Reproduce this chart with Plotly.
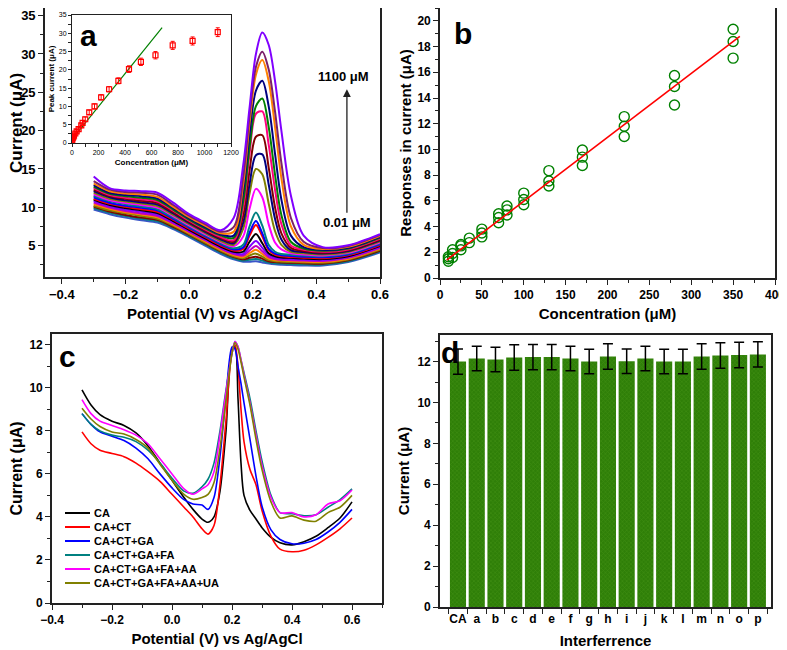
import plotly.graph_objects as go

# ---------------- panel a: DPV curves at increasing concentration ----------------
pot_a = [-0.30, -0.25, -0.20, -0.15, -0.10, -0.05, 0.00, 0.05, 0.10, 0.14, 0.17,
         0.19, 0.21, 0.23, 0.25, 0.27, 0.29, 0.32, 0.36, 0.42, 0.50, 0.60]

curves_a = [
    ("#3a56c8", [9.7, 9.1, 8.65, 8.3, 8.0, 7.15, 6.1, 5.0, 3.9, 3.2, 2.9, 2.9, 2.95, 2.8, 2.65, 2.55, 2.5, 2.45, 2.4, 2.4, 2.85, 4.1]),
    ("#008080", [9.9, 9.3, 8.85, 8.5, 8.2, 7.3, 6.25, 5.15, 4.05, 3.35, 3.05, 3.15, 3.25, 3.05, 2.8, 2.7, 2.65, 2.6, 2.55, 2.52, 2.96, 4.22]),
    ("#800000", [10.1, 9.45, 9.0, 8.65, 8.35, 7.45, 6.4, 5.3, 4.2, 3.5, 3.2, 3.4, 3.55, 3.3, 2.95, 2.85, 2.8, 2.75, 2.7, 2.64, 3.07, 4.34]),
    ("#808000", [10.2, 9.6, 9.2, 8.85, 8.5, 7.6, 6.5, 5.4, 4.3, 3.6, 3.35, 3.7, 3.95, 3.55, 3.1, 2.95, 2.9, 2.85, 2.8, 2.76, 3.18, 4.46]),
    ("#FF8000", [10.4, 9.8, 9.35, 9.05, 8.7, 7.75, 6.65, 5.55, 4.45, 3.75, 3.5, 4.0, 4.45, 3.9, 3.3, 3.1, 3.05, 3.0, 2.92, 2.88, 3.29, 4.58]),
    ("#C000C0", [10.6, 9.95, 9.5, 9.2, 8.85, 7.9, 6.8, 5.7, 4.6, 3.9, 3.7, 4.35, 4.95, 4.25, 3.5, 3.25, 3.15, 3.1, 3.05, 3.0, 3.4, 4.7]),
    ("#8000FF", [10.8, 10.1, 9.7, 9.4, 9.05, 8.05, 6.95, 5.85, 4.75, 4.05, 3.9, 4.85, 5.6, 4.7, 3.75, 3.4, 3.3, 3.25, 3.15, 3.12, 3.51, 4.82]),
    ("#000000", [11.0, 10.3, 9.9, 9.6, 9.25, 8.2, 7.05, 5.95, 4.85, 4.2, 4.2, 5.5, 6.5, 5.3, 4.0, 3.6, 3.45, 3.4, 3.3, 3.24, 3.62, 4.94]),
    ("#FF0000", [11.1, 10.45, 10.05, 9.75, 9.4, 8.35, 7.2, 6.1, 5.0, 4.35, 4.55, 6.3, 7.7, 6.2, 4.4, 3.8, 3.6, 3.5, 3.42, 3.36, 3.73, 5.06]),
    ("#0000FF", [11.3, 10.6, 10.2, 9.95, 9.6, 8.5, 7.35, 6.25, 5.15, 4.5, 4.75, 6.7, 8.2, 6.6, 4.6, 3.95, 3.75, 3.65, 3.55, 3.48, 3.84, 5.18]),
    ("#008080", [11.5, 10.8, 10.4, 10.1, 9.75, 8.65, 7.5, 6.35, 5.3, 4.65, 5.1, 7.5, 9.3, 7.6, 5.1, 4.2, 3.9, 3.8, 3.7, 3.6, 3.95, 5.3]),
    ("#FF00FF", [11.7, 10.95, 10.55, 10.3, 9.95, 8.85, 7.65, 6.5, 5.45, 4.9, 6.2, 9.8, 12.4, 11.3, 7.8, 5.4, 4.5, 4.0, 3.85, 3.72, 4.06, 5.42]),
    ("#808000", [11.9, 11.1, 10.75, 10.5, 10.15, 9.0, 7.8, 6.65, 5.6, 5.1, 7.2, 11.8, 15.0, 14.3, 10.5, 6.9, 5.1, 4.2, 4.0, 3.84, 4.17, 5.54]),
    ("#000080", [12.1, 11.3, 10.9, 10.65, 10.35, 9.2, 7.95, 6.8, 5.8, 5.3, 8.0, 13.0, 16.8, 16.9, 13.0, 8.5, 5.8, 4.4, 4.15, 3.96, 4.28, 5.66]),
    ("#800000", [12.3, 11.45, 11.1, 10.85, 10.55, 9.35, 8.1, 6.95, 5.95, 5.5, 8.9, 14.8, 19.2, 19.4, 15.2, 10.0, 6.6, 4.7, 4.3, 4.08, 4.39, 5.78]),
    ("#FF0080", [12.5, 11.6, 11.25, 11.05, 10.75, 9.55, 8.25, 7.1, 6.1, 5.7, 10.0, 17.0, 22.2, 22.5, 18.2, 12.3, 7.8, 5.0, 4.45, 4.2, 4.5, 5.9]),
    ("#008000", [12.7, 11.75, 11.45, 11.25, 10.95, 9.7, 8.4, 7.25, 6.3, 6.0, 10.8, 17.8, 23.2, 24.2, 20.5, 14.3, 9.0, 5.5, 4.6, 4.32, 4.61, 6.02]),
    ("#000080", [12.9, 11.9, 11.6, 11.45, 11.15, 9.9, 8.55, 7.4, 6.45, 6.3, 12.0, 19.5, 25.2, 26.5, 23.2, 17.0, 11.0, 6.3, 4.8, 4.44, 4.72, 6.14]),
    ("#FF8000", [13.1, 12.1, 11.8, 11.65, 11.35, 10.05, 8.7, 7.6, 6.6, 6.8, 13.0, 21.0, 27.3, 29.2, 26.5, 20.5, 13.8, 7.5, 5.1, 4.56, 4.83, 6.26]),
    ("#7B1F6A", [13.4, 12.3, 12.0, 11.9, 11.65, 10.3, 8.9, 7.8, 6.8, 7.4, 14.0, 22.0, 28.3, 30.3, 28.0, 22.5, 15.8, 8.6, 5.5, 4.68, 4.94, 6.38]),
    ("#8000FF", [14.0, 12.5, 12.2, 12.1, 11.9, 10.6, 9.1, 8.0, 7.0, 8.6, 15.5, 23.0, 30.0, 32.8, 31.2, 26.5, 20.0, 11.5, 6.3, 4.8, 5.05, 6.5]),
]

# inset: peak current vs concentration
conc_in = [0.01, 0.1, 1, 5, 10, 15, 25, 35, 50, 70, 80, 100, 130, 170, 220, 280,
           350, 430, 520, 630, 760, 910, 1100]
peak_in = [0.3, 0.6, 0.9, 1.3, 1.6, 2.0, 2.6, 3.2, 3.8, 4.8, 5.5, 6.5, 8.4, 10.0,
           12.5, 14.7, 17.0, 20.2, 22.2, 24.0, 26.7, 27.9, 30.3]
err_in = [0.3, 0.3, 0.3, 0.4, 0.4, 0.4, 0.5, 0.5, 0.5, 0.6, 0.6, 0.6, 0.6, 0.7,
          0.7, 0.7, 0.8, 0.9, 1.0, 1.0, 1.1, 1.1, 1.2]
fit_in_x = [0, 680]
fit_in_slope, fit_in_icpt = 0.0449, 1.0

# ---------------- panel b: calibration ----------------
conc_b = [10, 10, 10, 15, 15, 15, 25, 25, 25, 35, 35, 50, 50, 50, 70, 70, 70,
          80, 80, 80, 100, 100, 100, 130, 130, 130, 170, 170, 170, 220, 220, 220,
          280, 280, 280, 350, 350, 350]
resp_b = [1.3, 1.5, 1.65, 1.6, 1.9, 2.2, 2.2, 2.5, 2.6, 2.75, 3.1, 3.2, 3.5, 3.8,
          4.3, 4.7, 5.0, 4.9, 5.3, 5.6, 5.7, 6.1, 6.6, 7.15, 7.55, 8.35, 8.75,
          9.4, 9.95, 11.0, 11.8, 12.55, 13.45, 14.9, 15.75, 17.1, 18.4, 19.35]
fit_b_x = [8, 358]
fit_b_slope, fit_b_icpt = 0.0497, 1.0

# ---------------- panel c: interference DPV ----------------
pot_c = [-0.30, -0.27, -0.24, -0.20, -0.16, -0.12, -0.08, -0.04, 0.00, 0.04, 0.07,
         0.10, 0.12, 0.14, 0.16, 0.18, 0.20, 0.21, 0.22, 0.23, 0.24, 0.26, 0.28,
         0.30, 0.33, 0.36, 0.40, 0.44, 0.48, 0.52, 0.56, 0.60]
curves_c = [
    ("CA", "#000000", [9.9, 9.2, 8.75, 8.45, 8.25, 7.9, 7.3, 6.5, 5.7, 4.9, 4.35, 3.9, 3.75, 4.0, 5.2, 8.0, 11.8, 11.9, 9.5, 6.5, 5.0, 4.3, 3.9, 3.5, 3.05, 2.8, 2.7, 2.85, 3.1, 3.5, 3.95, 4.7]),
    ("CA+CT", "#FF0000", [7.95, 7.4, 7.1, 6.95, 6.8, 6.5, 6.1, 5.65, 5.05, 4.45, 4.0, 3.45, 3.2, 3.6, 5.5, 8.5, 11.7, 12.0, 11.0, 9.0, 7.5, 6.2, 5.5, 4.3, 3.1, 2.5, 2.38, 2.45, 2.7, 3.05, 3.45, 3.95]),
    ("CA+CT+GA", "#0000FF", [8.8, 8.3, 7.95, 7.75, 7.55, 7.2, 6.7, 6.0, 5.35, 4.8, 4.6, 4.55, 4.35, 4.9, 6.8, 9.6, 11.9, 11.8, 11.0, 10.2, 9.3, 7.6, 5.9, 4.5, 3.4, 2.95, 2.75, 2.78, 2.95, 3.3, 3.75, 4.35]),
    ("CA+CT+GA+FA", "#008080", [8.8, 8.3, 8.0, 7.8, 7.7, 7.5, 7.1, 6.5, 5.8, 5.2, 5.1, 5.4, 5.75, 6.5, 8.0, 9.9, 11.6, 12.15, 11.9, 11.3, 10.7, 9.5, 8.0, 6.6, 5.0, 4.2, 4.15, 4.05, 4.1, 4.45, 4.8, 5.3]),
    ("CA+CT+GA+FA+AA", "#FF00FF", [9.45, 8.8, 8.45, 8.25, 8.05, 7.8, 7.4, 6.7, 6.0, 5.3, 5.05, 5.3, 5.5, 6.1, 7.8, 9.8, 11.6, 12.15, 11.9, 11.3, 10.6, 9.3, 7.8, 6.4, 4.9, 4.2, 4.2, 4.0, 4.1, 4.6, 4.75, 5.25]),
    ("CA+CT+GA+FA+AA+UA", "#808000", [9.05, 8.55, 8.2, 7.95, 7.85, 7.6, 7.2, 6.45, 5.7, 5.05, 4.82, 4.9, 5.05, 5.6, 7.2, 9.4, 11.6, 12.1, 11.8, 11.2, 10.5, 9.2, 7.6, 6.2, 4.7, 3.95, 4.05, 3.85, 3.8, 4.2, 4.45, 5.0]),
]

# ---------------- panel d: interference bars ----------------
labels_d = ["CA", "a", "b", "c", "d", "e", "f", "g", "h", "i", "j", "k", "l",
            "m", "n", "o", "p"]
current_d = [12.0, 12.15, 12.1, 12.2, 12.22, 12.22, 12.15, 12.0, 12.25, 12.02,
             12.15, 12.0, 12.0, 12.25, 12.3, 12.32, 12.35]
err_d = [0.62, 0.6, 0.6, 0.62, 0.62, 0.62, 0.6, 0.6, 0.62, 0.6, 0.6, 0.6, 0.6,
         0.62, 0.62, 0.62, 0.62]

FONT = "Liberation Sans, Arial, sans-serif"
# the page body adds an 8px margin, so the figure is a bit smaller than the window
OFF = 8
W, H = 787 - OFF, 650 - OFF

fig = go.Figure()

for color, ys in curves_a:
    fig.add_trace(go.Scatter(x=pot_a, y=ys, mode="lines", xaxis="x", yaxis="y",
                             line=dict(color=color, width=2, shape="spline", smoothing=0.9)))

fig.add_trace(go.Scatter(x=fit_in_x, y=[fit_in_icpt + fit_in_slope * v for v in fit_in_x],
                         mode="lines", xaxis="x2", yaxis="y2",
                         line=dict(color="#008000", width=1.2)))
fig.add_trace(go.Scatter(x=conc_in, y=peak_in, mode="markers", xaxis="x2", yaxis="y2",
                         marker=dict(symbol="square-open", color="#FF0000", size=5,
                                     line=dict(width=1.2)),
                         error_y=dict(type="data", array=err_in, color="#FF0000",
                                      thickness=1, width=2)))

fig.add_trace(go.Scatter(x=conc_b, y=resp_b, mode="markers", xaxis="x3", yaxis="y3",
                         marker=dict(symbol="circle-open", color="#008000", size=10,
                                     line=dict(width=1.4))))
fig.add_trace(go.Scatter(x=fit_b_x, y=[fit_b_icpt + fit_b_slope * v for v in fit_b_x],
                         mode="lines", xaxis="x3", yaxis="y3",
                         line=dict(color="#FF0000", width=1.6)))

for name, color, ys in curves_c:
    fig.add_trace(go.Scatter(x=pot_c, y=ys, mode="lines", name=name, xaxis="x4", yaxis="y4",
                             line=dict(color=color, width=1.6, shape="spline", smoothing=0.8)))

fig.add_trace(go.Bar(x=labels_d, y=current_d, xaxis="x5", yaxis="y5", width=0.86,
                     marker=dict(color="#2f7f08", line=dict(width=0),
                                 pattern=dict(shape="x", fgcolor="#4e9a1c", size=3,
                                              solidity=0.35)),
                     error_y=dict(type="data", array=err_d, color="#000000",
                                  thickness=1.5, width=5)))


# page pixels -> paper fractions
def px_x(a, b):
    return [max(0, (a - OFF) / W), min(1, (b - OFF) / W)]


def px_y(top, bottom):
    return [max(0, 1 - (bottom - OFF) / H), min(1, 1 - (top - OFF) / H)]


tick_font = dict(family=FONT, size=13, color="black", weight="bold")
title_font = dict(family=FONT, size=15, color="black", weight="bold")


def axis(domain, rng, dtick, minor, title="", tick0=None, standoff=6, tfont=None, **kw):
    d = dict(domain=domain, range=rng, dtick=dtick, showline=True, mirror=True,
             linecolor="#222", linewidth=1.6, ticks="outside", ticklen=5,
             tickwidth=1.3, tickcolor="#222", showgrid=False, zeroline=False,
             automargin=False, tickfont=tick_font,
             title=dict(text=title, font=tfont or title_font, standoff=standoff),
             minor=dict(dtick=minor, ticks="outside", ticklen=3, tickcolor="#222",
                        showgrid=False))
    if tick0 is not None:
        d["tick0"] = tick0
    d.update(kw)
    return d


small_tick = dict(family=FONT, size=7, color="black")
small_title = dict(family=FONT, size=8, color="black", weight="bold")
b_tick = dict(family=FONT, size=12, color="black", weight="bold")

fig.update_layout(
    width=W, height=H, margin=dict(l=0, r=0, t=0, b=0),
    paper_bgcolor="white", plot_bgcolor="white",
    font=dict(family=FONT, color="black"),
    showlegend=False,
    xaxis=axis(px_x(45, 380), [-0.453, 0.6], 0.2, 0.1, "Potential (V) vs Ag/AgCl",
               tick0=-0.4, tickformat=".1f", anchor="y", standoff=7),
    yaxis=axis(px_y(4, 277), [0.9, 36], 5, 2.5, "", tick0=5, anchor="x"),
    xaxis2=axis(px_x(72, 231), [0, 1200], 200, 100, "Concentration (μM)", anchor="y2",
                linewidth=1, ticklen=3, standoff=3, tickfont=small_tick, tfont=small_title),
    yaxis2=axis(px_y(15, 143), [0, 35], 5, 2.5, "Peak current (μA)", anchor="x2",
                linewidth=1, ticklen=3, standoff=3, tickfont=small_tick, tfont=small_title),
    xaxis3=axis(px_x(440, 775), [0, 400], 50, 25, "Concentration (μM)", anchor="y3",
                standoff=7, tickfont=b_tick),
    yaxis3=axis(px_y(5, 278), [0, 21], 2, 1, "Responses in current (μA)", anchor="x3",
                standoff=2, tickfont=b_tick),
    xaxis4=axis(px_x(52, 382), [-0.4, 0.7], 0.2, 0.1, "Potential (V) vs Ag/AgCl",
                tick0=-0.4, tickformat=".1f", anchor="y4", standoff=7, tickfont=b_tick),
    yaxis4=axis(px_y(334, 603), [0, 12.5], 2, 1, "Current (μA)", anchor="x4", standoff=6,
                tickfont=b_tick,
                tfont=dict(family=FONT, size=16, color="black", weight="bold")),
    xaxis5=dict(domain=px_x(440, 771), range=[-0.96, 16.7], showline=True, mirror=True,
                linecolor="#222", linewidth=1.6, ticks="outside", ticklen=5,
                tickwidth=1.3, tickcolor="#222", tickson="boundaries", showgrid=False,
                automargin=False, tickangle=0,
                tickfont=dict(family=FONT, size=12, color="black", weight="bold"),
                title=dict(text="Interferrence", font=title_font, standoff=10),
                anchor="y5"),
    yaxis5=axis(px_y(335, 607), [0, 13.3], 2, 1, "Current (μA)", anchor="x5", standoff=4,
                tickfont=b_tick),
)

# panel a y title placed as rotated text so it clears the tick labels
fig.add_annotation(text="Current (μA)", textangle=-90, xref="paper", yref="paper",
                   x=(17 - OFF) / W, y=1 - (123 - OFF) / H, xanchor="center",
                   yanchor="middle", showarrow=False,
                   font=dict(family=FONT, size=17, color="black", weight="bold"))

big = dict(family=FONT, size=30, color="black", weight="bold")
fig.add_annotation(text="a", x=128, y=29.5, xref="x2", yref="y2", showarrow=False, font=big)
fig.add_annotation(text="b", x=27.5, y=19.0, xref="x3", yref="y3", showarrow=False, font=big)
fig.add_annotation(text="c", x=-0.347, y=11.44, xref="x4", yref="y4", showarrow=False, font=big)
fig.add_annotation(text="d", x=-0.43, y=12.45, xref="x5", yref="y5", showarrow=False, font=big)

fig.add_annotation(x=0.496, y=25.4, ax=0.496, ay=9.1, xref="x", yref="y", axref="x",
                   ayref="y", showarrow=True, arrowhead=2, arrowsize=1.2, arrowwidth=1.3,
                   arrowcolor="#222", text="")
fig.add_annotation(text="1100 μM", x=0.484, y=27.0, xref="x", yref="y", showarrow=False,
                   font=dict(family=FONT, size=13, color="black", weight="bold"))
fig.add_annotation(text="0.01 μM", x=0.496, y=7.97, xref="x", yref="y", showarrow=False,
                   font=dict(family=FONT, size=13, color="black", weight="bold"))

# legend for panel c, drawn as short line samples with labels
leg_font = dict(family=FONT, size=11, color="black", weight="bold")
for i, (name, color, _) in enumerate(curves_c):
    yc = 1 - (513 + 14 * i - OFF) / H
    fig.add_shape(type="line", xref="paper", yref="paper", x0=(65 - OFF) / W,
                  x1=(90 - OFF) / W, y0=yc, y1=yc, line=dict(color=color, width=2))
    fig.add_annotation(text=name, xref="paper", yref="paper", x=(92 - OFF) / W, y=yc,
                       xanchor="left", yanchor="middle", showarrow=False, font=leg_font)

fig.write_html("out.html")
